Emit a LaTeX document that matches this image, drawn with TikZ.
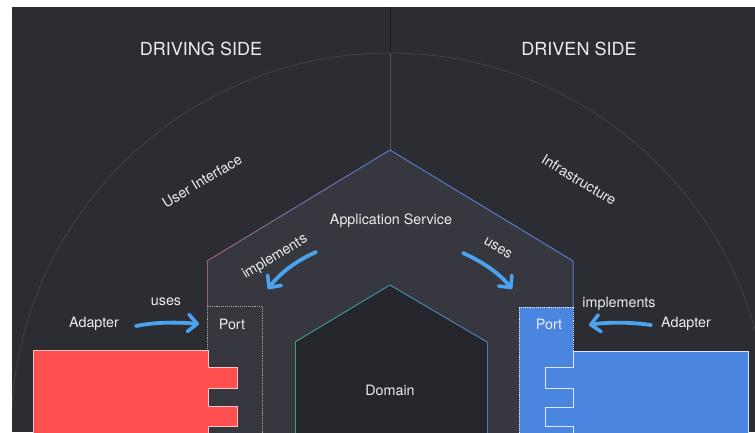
\documentclass[tikz,border=0pt]{standalone}
\usepackage{fontspec}
\setmainfont{TeX Gyre Heros}
\usetikzlibrary{arrows.meta,calc}

\definecolor{bgdark}{HTML}{2C2D33}
\definecolor{hexfill}{HTML}{37383F}
\definecolor{domfill}{HTML}{25262B}
\definecolor{ringline}{HTML}{414247}
\definecolor{divtop}{HTML}{1C1C20}
\definecolor{divlow}{HTML}{55565C}
\definecolor{edgepink}{HTML}{A0607E}
\definecolor{edgeblue}{HTML}{5679CC}
\definecolor{domgreen}{HTML}{3C9C88}
\definecolor{domblue}{HTML}{4A7FB8}
\definecolor{arrowblue}{HTML}{4BA3F0}
\definecolor{adapterred}{HTML}{FF4F50}
\definecolor{redrim}{HTML}{F2C4C4}
\definecolor{portblue}{HTML}{4A86E0}
\definecolor{bluerim}{HTML}{DDE8F8}
\definecolor{labeltext}{HTML}{ECECEE}

\tikzset{
  label14/.style={text=labeltext, inner sep=1pt, font=\fontsize{14.3}{16}\selectfont},
  heading/.style={text=labeltext, inner sep=1pt, font=\fontsize{18}{20}\selectfont},
  flow/.style={draw=arrowblue, line width=3.8pt, line cap=round,
    -{Straight Barb[length=9pt,width=17pt,line width=3.6pt,line cap=round,line join=round]}},
  portrim/.style={draw=#1, densely dotted, line width=0.9pt},
}

\begin{document}
\begin{tikzpicture}[x=1pt,y=-1pt]
\useasboundingbox (0,0) rectangle (755,432);
\fill[white] (0,0) rectangle (755,432);
\fill[bgdark] (12,7) rectangle (755,432);

\begin{scope}
\clip (12,7) rectangle (755,432);

% outer ring and the side divider
\draw[ringline, line width=0.8pt] (390,432) circle [radius=379];
\draw[divtop, line width=1pt] (390,7) -- (390,53);
\draw[divlow, line width=1pt] (390,53) -- (390,150);

% application service hexagon
\fill[hexfill] (390,150) -- (573,261) -- (573,440) -- (207,440) -- (207,261) -- cycle;
\foreach \i in {0,...,23}{
  \pgfmathtruncatemacro{\p}{100*(\i+0.5)/24}
  \pgfmathsetmacro{\ta}{\i/24}
  \pgfmathsetmacro{\tb}{(\i+1)/24}
  \draw[line width=1pt, color=edgeblue!\p!edgepink]
    ($(207,261)!\ta!(390,150)$) -- ($(207,261)!\tb!(390,150)$);
}
\draw[line width=1pt, edgepink] (207,261) -- (207,306);
\draw[line width=1pt, edgeblue] (390,150) -- (573,261) -- (573,307);

% domain hexagon
\fill[domfill] (390,285) -- (487,342) -- (487,440) -- (295,440) -- (295,342) -- cycle;
\foreach \i in {0,...,19}{
  \pgfmathtruncatemacro{\p}{100*(\i+0.5)/40}
  \pgfmathtruncatemacro{\q}{100*(\i+20.5)/40}
  \pgfmathsetmacro{\ta}{\i/20}
  \pgfmathsetmacro{\tb}{(\i+1)/20}
  \draw[line width=1pt, color=domblue!\p!domgreen]
    ($(295,342)!\ta!(390,285)$) -- ($(295,342)!\tb!(390,285)$);
  \draw[line width=1pt, color=domblue!\q!domgreen]
    ($(390,285)!\ta!(487,342)$) -- ($(390,285)!\tb!(487,342)$);
}
\draw[line width=1pt, domgreen] (295,342) -- (295,440);
\draw[line width=1pt, domblue] (487,342) -- (487,440);

% driving side port and adapter
\fill[hexfill] (207,306) rectangle (262,440);
\draw[portrim=gray!70] (207,440) -- (207,306) -- (262,306) -- (262,440);
\draw[fill=adapterred, draw=redrim, line width=1pt]
  (33,440) -- (33,350) -- (208,350) -- (208,367) -- (237,367) -- (237,388)
  -- (208,388) -- (208,406) -- (237,406) -- (237,426) -- (208,426) -- (208,440);

% driven side port and adapter
\fill[portblue] (519,307) rectangle (573,440);
\draw[portrim=white!85!portblue] (519,440) -- (519,307) -- (573,307) -- (573,351);
\draw[fill=portblue, draw=bluerim, line width=1pt]
  (748,440) -- (748,351) -- (573,351) -- (573,367) -- (545,367) -- (545,388)
  -- (573,388) -- (573,407) -- (545,407) -- (545,426) -- (573,426) -- (573,440);
\end{scope}

% headings and labels
\node[heading] (drivingside) at (201,49) {DRIVING SIDE};
\node[heading] (drivenside) at (579,49) {DRIVEN SIDE};
\node[label14, rotate=31] (userinterface) at (202,181) {User Interface};
\node[label14, rotate=-31] (infrastructure) at (579,180) {Infrastructure};
\node[label14] (appservice) at (391,221) {Application Service};
\node[label14] (domain) at (390,390) {Domain};
\node[label14, rotate=31] (implin) at (275,257) {implements};
\node[label14, rotate=-31] (usesin) at (498,248) {uses};
\node[label14] (leftadapter) at (94,324) {Adapter};
\node[label14] (leftuses) at (166,302) {uses};
\node[label14] (leftport) at (232,324) {Port};
\node[label14] (rightport) at (549,324) {Port};
\node[label14] (rightimpl) at (619,304) {implements};
\node[label14] (rightadapter) at (686,324) {Adapter};

% flow arrows
\coordinate (a1s) at (316,252);
\coordinate (a1e) at (268,289);
\coordinate (a2s) at (463,253);
\coordinate (a2e) at (512,289);
\coordinate (a3s) at (136,326);
\coordinate (a3e) at (199,324);
\coordinate (a4s) at (651,325);
\coordinate (a4e) at (589,325);
\draw[flow] (a1s) .. controls (296,261) and (280,273) .. (a1e);
\draw[flow] (a2s) .. controls (483,262) and (499,273) .. (a2e);
\draw[flow] (a3s) .. controls (155,322) and (178,322) .. (a3e);
\draw[flow] (a4s) .. controls (630,322) and (607,322) .. (a4e);
\end{tikzpicture}
\end{document}
